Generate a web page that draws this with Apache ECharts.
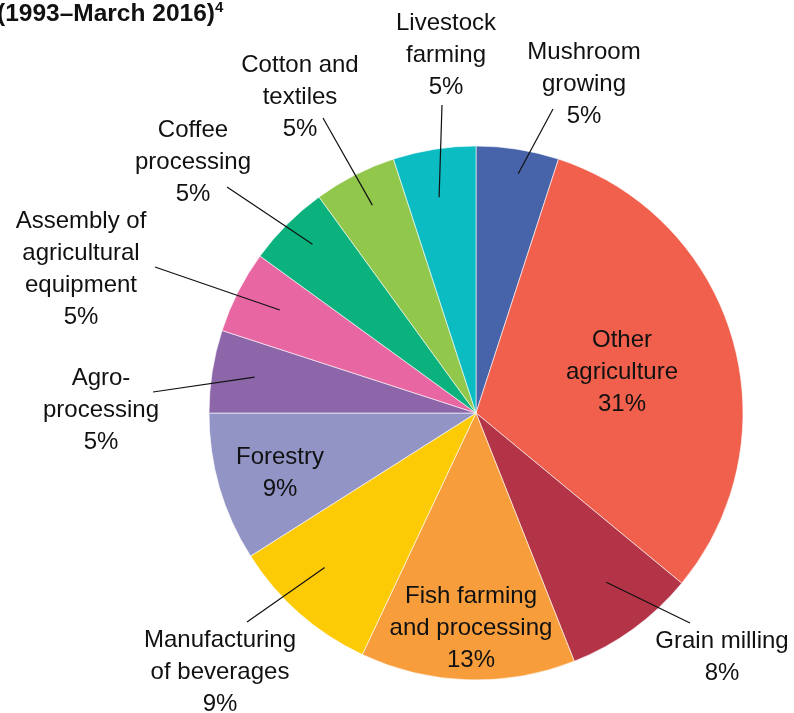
<!DOCTYPE html>
<html>
<head>
<meta charset="utf-8">
<script src="https://cdn.jsdelivr.net/npm/echarts@6/dist/echarts.min.js"></script>
<style>
html,body{margin:0;padding:0;background:#fff;}
#chart{width:794px;height:713px;}
</style>
</head>
<body>
<div id="chart"></div>
<script>
// ---- data ----
const categories = [
  'Mushroom\ngrowing',
  'Other\nagriculture',
  'Grain milling',
  'Fish farming\nand processing',
  'Manufacturing\nof beverages',
  'Forestry',
  'Agro-\nprocessing',
  'Assembly of\nagricultural\nequipment',
  'Coffee\nprocessing',
  'Cotton and\ntextiles',
  'Livestock\nfarming'
];
const shares = [5, 31, 8, 13, 9, 9, 5, 5, 5, 5, 5];
const colors = ['#4763a9', '#f0604c', '#b33447', '#f89d3c', '#fdcb06', '#9294c6',
                '#8c66a9', '#e866a2', '#0bb27e', '#91c74a', '#0bbcc2'];
const insideLabel = [false, true, false, true, false, true, false, false, false, false, false];
const titleText = '(1993\u2013March 2016)';
const titleNote = '4';

// ---- layout (styles only) ----
const CX = 476, CY = 413, R = 267;
// label centre offset from pie centre; leader line: start radius fraction, angle tweak, end offset from label centre
const labelLayoutTable = [
  {dx: 108, dy: -329, lr: 0.91, da: 1,   ex: -31, ey: 25},
  {dx: 146, dy: -41},
  {dx: 246, dy: 244,  lr: 0.80, da: -1.6, ex: -32, ey: -34},
  {dx: -5,  dy: 215},
  {dx: -256, dy: 259, lr: 0.81, da: 3,   ex: 27,  ey: -50},
  {dx: -196, dy: 60},
  {dx: -375, dy: -3,  lr: 0.84, da: 0.2, ex: 52,  ey: -18},
  {dx: -395, dy: -144, lr: 0.83, da: 0.7, ex: 74, ey: -2},
  {dx: -283, dy: -251, lr: 0.88, da: 0.9, ex: 34, ey: 25},
  {dx: -176, dy: -316, lr: 0.87, da: 0.5, ex: 23, ey: 21},
  {dx: -30,  dy: -358, lr: 0.82, da: -0.7, ex: -4, ey: 50}
];

const total = shares.reduce((a, b) => a + b, 0);
const midAngles = [];
let acc = 0;
shares.forEach(v => { midAngles.push((acc + v / 2) / total * 360); acc += v; });

const data = categories.map((name, i) => ({
  name: name,
  value: shares[i],
  itemStyle: {color: colors[i]},
  label: {position: insideLabel[i] ? 'inside' : 'outside'}
}));

// leader lines (drawn above the sectors), derived from slice mid-angles
const leaderLines = [];
categories.forEach((name, i) => {
  if (insideLabel[i]) return;
  const L = labelLayoutTable[i];
  const a = (midAngles[i] + L.da) * Math.PI / 180;
  const sx = CX + Math.sin(a) * R * L.lr;
  const sy = CY - Math.cos(a) * R * L.lr;
  leaderLines.push({
    type: 'line',
    z: 100,
    silent: true,
    shape: {x1: sx, y1: sy, x2: CX + L.dx + L.ex, y2: CY + L.dy + L.ey},
    style: {stroke: '#111', lineWidth: 1.2}
  });
});

const chart = echarts.init(document.getElementById('chart'), null, {renderer: 'canvas'});
chart.setOption({
  animation: false,
  backgroundColor: '#fff',
  graphic: [{
    type: 'text',
    left: -3,
    top: 0,
    style: {
      text: '{a|' + titleText + '}{b|' + titleNote + '}',
      rich: {
        a: {fontFamily: 'Liberation Sans, Arial, sans-serif', fontWeight: 'bold', fontSize: 24.5, lineHeight: 29, fill: '#111'},
        b: {fontFamily: 'Liberation Sans, Arial, sans-serif', fontWeight: 'bold', fontSize: 15, verticalAlign: 'top', lineHeight: 29, fill: '#111'}
      }
    }
  }].concat(leaderLines),
  series: [{
    type: 'pie',
    center: [CX, CY],
    radius: [0, R],
    startAngle: 90,
    clockwise: true,
    avoidLabelOverlap: false,
    data: data,
    itemStyle: {borderColor: '#ffffff', borderWidth: 0.6},
    label: {
      show: true,
      formatter: p => p.name + '\n' + p.value + '%',
      fontFamily: 'Liberation Sans, Arial, sans-serif',
      fontSize: 24,
      lineHeight: 32,
      color: '#111',
      align: 'center'
    },
    labelLine: {show: false},
    emphasis: {disabled: true},
    labelLayout: function (params) {
      const L = labelLayoutTable[params.dataIndex];
      return {x: CX + L.dx, y: CY + L.dy, align: 'center', verticalAlign: 'middle'};
    }
  }]
});
</script>
</body>
</html>
